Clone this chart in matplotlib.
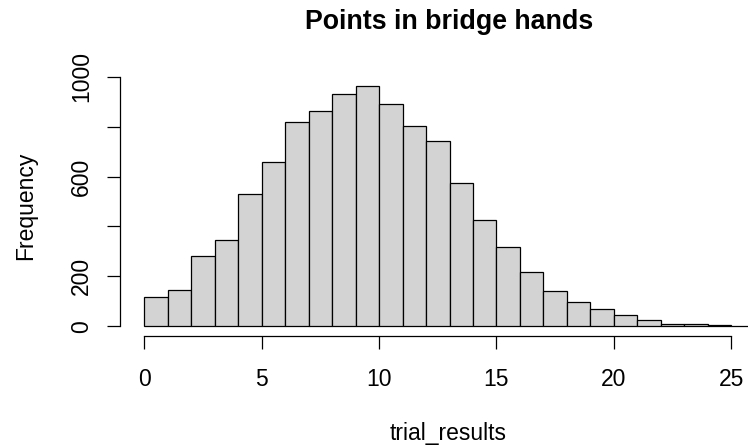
import matplotlib
matplotlib.use("Agg")
import matplotlib.pyplot as plt
import numpy as np

# Histogram of high-card points over simulated bridge hands
breaks = list(range(0, 27))
counts = [119, 144, 280, 345, 530, 657, 819, 862, 929, 964, 889, 803, 741,
          573, 427, 317, 218, 140, 98, 70, 44, 24, 10, 10, 4, 1]
x_ticks = [0, 5, 10, 15, 20, 25]
y_ticks = [0, 200, 400, 600, 800, 1000]
y_tick_labels = ["0", "200", "", "600", "", "1000"]

title = "Points in bridge hands"
x_label = "trial_results"
y_label = "Frequency"

plt.rcParams["font.family"] = ["Liberation Sans", "DejaVu Sans"]
W, H, DPI = 748, 447, 100
fig = plt.figure(figsize=(W / DPI, H / DPI), dpi=DPI)

# plot region in pixels (left, top, right, bottom)
L, T, R, B = 120, 76, 779, 336
ax = fig.add_axes([L / W, 1 - B / H, (R - L) / W, (B - T) / H])

lefts = np.array(breaks[:-1], dtype=float)
widths = np.diff(breaks)
ax.bar(lefts, counts, width=widths, align="edge", color="#D3D3D3",
       edgecolor="black", linewidth=0.9)

span_x = breaks[-1] - breaks[0]
ax.set_xlim(breaks[0] - 0.04 * span_x, breaks[-1] + 0.04 * span_x)
ymax = max(counts)
ax.set_ylim(-0.04 * ymax, ymax * 1.04)

for s in ("top", "right"):
    ax.spines[s].set_visible(False)
for s in ("left", "bottom"):
    ax.spines[s].set_linewidth(0.9)
ax.spines["bottom"].set_bounds(x_ticks[0], x_ticks[-1])
ax.spines["left"].set_bounds(y_ticks[0], y_ticks[-1])

fs = 16.5
ax.set_xticks(x_ticks)
ax.set_xticklabels([str(v) for v in x_ticks], fontsize=fs)
ax.set_yticks(y_ticks)
ax.set_yticklabels(y_tick_labels, fontsize=fs)
ax.tick_params(axis="both", direction="out", length=9.4, width=0.9)
ax.tick_params(axis="x", pad=26.6)
ax.tick_params(axis="y", pad=13.5)
for lab in ax.get_xticklabels():
    lab.set_va("baseline")
for lab in ax.get_yticklabels():
    lab.set_rotation(90)
    lab.set_rotation_mode("anchor")
    lab.set_ha("center")
    lab.set_va("baseline")

ax.set_title(title, fontsize=19.3, fontweight="bold", pad=33.5)
fig.text(448.5 / W, 1 - 440 / H, x_label, fontsize=fs, ha="center", va="baseline")
fig.text(31.7 / W, 1 - 206 / H, y_label, fontsize=fs, rotation=90,
         rotation_mode="anchor", ha="center", va="baseline")

fig.savefig("out.png", dpi=DPI)
